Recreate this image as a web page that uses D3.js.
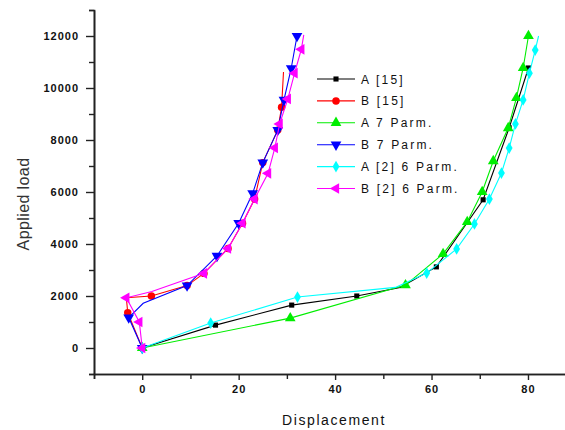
<!DOCTYPE html>
<html>
<head>
<meta charset="utf-8">
<script src="https://cdn.jsdelivr.net/npm/d3@7"></script>
<style>
  body { margin: 0; background: #fff; }
  svg { display: block; font-family: "Liberation Sans", Arial, sans-serif; }
  .axis path, .axis line { stroke: #222; }
  .axis path { stroke-width: 1.6; }
  .axis line { stroke-width: 1.4; }
  .axis text { font-size: 11px; fill: #111; letter-spacing: 1px; font-weight: bold; }
  .legend text { font-size: 12px; fill: #111; letter-spacing: 2.2px; }
</style>
</head>
<body>
<svg width="565" height="430"></svg>
<script>
// series data: [displacement, applied load]
var seriesNames = ['A [15]', 'B [15]', 'A 7 Parm.', 'B 7 Parm.', 'A [2] 6 Parm.', 'B [2] 6 Parm.'];
var seriesColors = ['#000000', '#ff0000', '#00ee00', '#0000ff', '#00ffff', '#ff00ff'];

var a15 = [[0,0],[15.2,880],[31,1650],[44.5,2000],[53.5,2330],[61,3120],[70.7,5700],[76.1,8470],[80.1,10770]];
var b15 = [[0,0],[-3,1360],[-3.3,1930],[1.9,2000],[9.3,2400],[12.8,2870],[17.8,3830],[20.8,4800],
           [23.3,5730],[25,7130],[28.1,8380],[28.9,9260],[29.3,10615]];
var a7 = [[0,0],[30.7,1150],[54.6,2420],[62.4,3620],[67.4,4850],[70.5,6000],[72.8,7190],
          [75.9,8460],[77.6,9620],[79,10770],[80.1,12000]];
var b7 = [[0,0],[-2.8,1170],[0.2,1720],[9.3,2400],[15.5,3540],[20,4800],[22.9,5950],[25,7130],
          [28.1,8380],[29.4,9540],[30.9,10760],[32.1,12000]];
var a26 = [[0,0],[14.2,960],[32.2,1960],[52.5,2330],[59,2880],[65.2,3810],[68.9,4770],[72,5730],[74.5,6730],
           [76.1,7690],[77.4,8620],[79,9540],[80.3,10570],[81.5,11460],[82.2,12000]];
var b26 = [[0,0],[-0.6,1000],[-3.3,1930],[2,2170],[12.8,2870],[17.8,3830],[20.8,4800],[23.3,5730],
           [26.1,6720],[27.5,7700],[28.5,8620],[30.2,9580],[31.6,10570],[33,11490],[33.5,12040]];

var allSeries = [a15, b15, a7, b7, a26, b26];
// points drawn on the line without a marker
var noMarker = [[4], [2, 12], [], [2], [3, 14], [3, 14]];

var xMajor = [0, 20, 40, 60, 80];
var xMinor = [-10, 10, 30, 50, 70, 90];
var yMajor = [0, 2000, 4000, 6000, 8000, 10000, 12000];
var yMinor = [-1000, 1000, 3000, 5000, 7000, 9000, 11000, 13000];

var svg = d3.select('svg');

var xScale = d3.scaleLinear().domain([-10, 90]).range([94, 576.2]);
var yScale = d3.scaleLinear().domain([-1000, 13000]).range([374, 10]);

// **** axes ****
svg.append('g').attr('class', 'x axis')
    .attr('transform', 'translate(0,' + yScale(-1000) + ')')
    .call(d3.axisBottom(xScale).tickValues(xMinor).tickSize(5).tickFormat(''));
svg.append('g').attr('class', 'x axis')
    .attr('transform', 'translate(0,' + yScale(-1000) + ')')
    .call(d3.axisBottom(xScale).tickValues(xMajor).tickSize(6).tickSizeOuter(0).tickPadding(5)
        .tickFormat(d3.format('d')));

svg.append('g').attr('class', 'y axis')
    .attr('transform', 'translate(' + xScale(-10) + ',0)')
    .call(d3.axisLeft(yScale).tickValues(yMinor).tickSize(5).tickFormat(''));
svg.append('g').attr('class', 'y axis')
    .attr('transform', 'translate(' + xScale(-10) + ',0)')
    .call(d3.axisLeft(yScale).tickValues(yMajor).tickSize(8).tickSizeOuter(0).tickPadding(7)
        .tickFormat(d3.format('d')));

svg.append('text')
    .attr('x', 334).attr('y', 425)
    .attr('text-anchor', 'middle')
    .style('font-size', '14px').style('letter-spacing', '1.6px').style('fill', '#111')
    .text('Displacement');

svg.append('text')
    .attr('transform', 'translate(29,204) rotate(-90)')
    .attr('text-anchor', 'middle')
    .style('font-size', '16px').style('letter-spacing', '0.4px').style('fill', '#333')
    .text('Applied load');

// **** series ****
var symbols = [
    {type: d3.symbolSquare, size: 26, rot: 0},
    {type: d3.symbolCircle, size: 44, rot: 0},
    {type: d3.symbolTriangle, size: 50, rot: 0},
    {type: d3.symbolTriangle, size: 50, rot: 180},
    {type: d3.symbolDiamond, size: 40, rot: 0},
    {type: d3.symbolTriangle, size: 50, rot: -90}
];

var line = d3.line()
    .x(function(d) { return xScale(d[0]); })
    .y(function(d) { return yScale(d[1]); });

allSeries.forEach(function(data, i) {
    var g = svg.append('g');
    g.append('path')
        .attr('d', line(data))
        .attr('fill', 'none')
        .attr('stroke', seriesColors[i])
        .attr('stroke-width', 1.1);
    var sym = d3.symbol().type(symbols[i].type).size(symbols[i].size);
    g.selectAll('path.mk')
        .data(data.filter(function(d, j) { return noMarker[i].indexOf(j) < 0; }))
        .enter()
        .append('path')
        .attr('class', 'mk')
        .attr('d', sym)
        .attr('fill', seriesColors[i])
        .attr('transform', function(d) {
            return 'translate(' + xScale(d[0]) + ',' + yScale(d[1]) + ') rotate(' + symbols[i].rot + ')';
        });
});

// **** legend ****
var legend = svg.append('g').attr('class', 'legend');
seriesNames.forEach(function(name, i) {
    var y = 79 + i * 21.9;
    legend.append('line')
        .attr('x1', 317).attr('x2', 355)
        .attr('y1', y).attr('y2', y)
        .attr('stroke', seriesColors[i]).attr('stroke-width', 1.1);
    legend.append('path')
        .attr('d', d3.symbol().type(symbols[i].type).size(symbols[i].size))
        .attr('fill', seriesColors[i])
        .attr('transform', 'translate(336,' + y + ') rotate(' + symbols[i].rot + ')');
    legend.append('text')
        .attr('x', 361).attr('y', y + 4.5)
        .text(name);
});
</script>
</body>
</html>
